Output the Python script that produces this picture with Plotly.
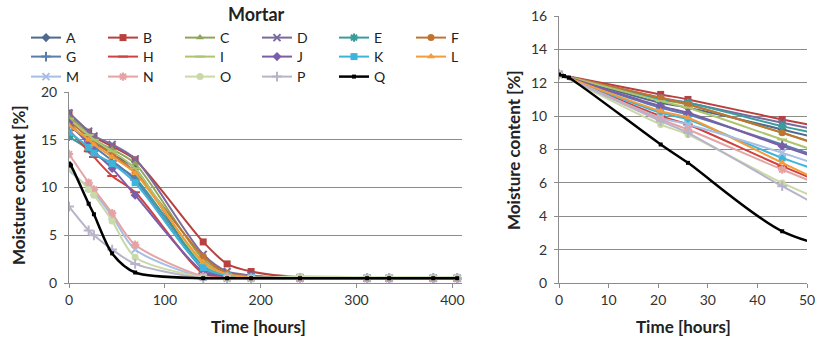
import plotly.graph_objects as go

# ---------------- data ----------------
names = ["A", "B", "C", "D", "E", "F", "G", "H", "I", "J", "K", "L", "M", "N", "O", "P", "Q"]

# Left panel (Mortar) – time in hours
time_left = [0, 20.5, 26, 45, 69, 140, 165, 190, 241, 311, 334, 380, 405]
left_vals = {
    "A": [17.5, 15.5, 15.0, 13.5, 12.0, 1.5, 0.8, 0.6, 0.5, 0.5, 0.5, 0.5, 0.5],
    "B": [17.8, 15.8, 15.3, 14.3, 12.9, 4.3, 2.0, 1.2, 0.6, 0.5, 0.5, 0.5, 0.5],
    "C": [17.5, 15.6, 15.0, 14.0, 12.5, 2.5, 1.0, 0.7, 0.5, 0.5, 0.5, 0.5, 0.5],
    "D": [17.8, 15.9, 15.4, 14.5, 13.0, 3.0, 1.2, 0.8, 0.5, 0.5, 0.5, 0.5, 0.5],
    "E": [15.3, 14.0, 13.5, 12.5, 11.0, 1.8, 0.8, 0.6, 0.5, 0.5, 0.5, 0.5, 0.5],
    "F": [17.0, 15.2, 14.7, 13.5, 11.6, 2.8, 1.0, 0.7, 0.5, 0.5, 0.5, 0.5, 0.5],
    "G": [16.5, 14.8, 14.3, 12.8, 10.8, 1.5, 0.7, 0.6, 0.5, 0.5, 0.5, 0.5, 0.5],
    "H": [16.0, 13.8, 13.2, 11.2, 9.5, 1.0, 0.6, 0.5, 0.5, 0.5, 0.5, 0.5, 0.5],
    "I": [17.2, 15.5, 15.0, 13.8, 12.0, 2.0, 0.9, 0.6, 0.5, 0.5, 0.5, 0.5, 0.5],
    "J": [16.8, 14.5, 13.8, 12.0, 9.2, 1.2, 0.7, 0.5, 0.5, 0.5, 0.5, 0.5, 0.5],
    "K": [15.8, 14.2, 13.6, 12.5, 10.5, 1.6, 0.8, 0.6, 0.5, 0.5, 0.5, 0.5, 0.5],
    "L": [16.5, 15.0, 14.5, 13.2, 11.5, 2.2, 0.9, 0.6, 0.5, 0.5, 0.5, 0.5, 0.5],
    "M": [11.8, 10.0, 9.5, 7.0, 3.5, 0.6, 0.5, 0.5, 0.5, 0.5, 0.5, 0.5, 0.5],
    "N": [13.5, 10.5, 9.8, 7.3, 4.0, 0.7, 0.5, 0.5, 0.5, 0.5, 0.5, 0.5, 0.5],
    "O": [12.0, 9.8, 9.2, 6.5, 2.7, 0.6, 0.5, 0.5, 0.7, 0.6, 0.6, 0.6, 0.6],
    "P": [8.0, 5.5, 5.0, 3.5, 2.0, 0.5, 0.5, 0.5, 0.5, 0.5, 0.5, 0.5, 0.5],
}
time_q_left = [0, 1, 2, 20.5, 26, 45, 69, 140, 165, 190, 241, 311, 334, 380, 405]
q_left = [12.5, 12.4, 12.3, 8.3, 7.2, 3.1, 1.1, 0.5, 0.5, 0.5, 0.5, 0.5, 0.5, 0.5, 0.5]

# Right panel – first 50 hours
time_right = [0, 20.5, 26, 45, 69]
right_vals = {
    "A": [12.5, 10.8, 10.5, 9.2, 7.4],
    "B": [12.5, 11.3, 11.0, 9.8, 8.4],
    "C": [12.5, 11.0, 10.7, 9.0, 6.7],
    "D": [12.5, 11.1, 10.8, 9.6, 8.2],
    "E": [12.5, 11.0, 10.8, 9.4, 7.9],
    "F": [12.5, 11.1, 10.7, 9.0, 6.6],
    "G": [12.5, 10.5, 10.1, 8.3, 5.9],
    "H": [12.5, 10.0, 9.5, 7.0, 4.1],
    "I": [12.5, 10.9, 10.5, 8.6, 6.2],
    "J": [12.5, 10.6, 10.2, 8.2, 5.8],
    "K": [12.5, 10.2, 9.8, 7.5, 5.1],
    "L": [12.5, 10.3, 9.9, 7.2, 3.8],
    "M": [12.5, 9.9, 9.5, 7.8, 5.4],
    "N": [12.5, 9.8, 9.2, 6.8, 3.9],
    "O": [12.5, 9.5, 8.9, 6.0, 3.0],
    "P": [12.5, 9.7, 9.0, 5.8, 2.0],
}
time_q_right = [0, 1, 2, 20.5, 26, 45, 69]
q_right = [12.5, 12.4, 12.3, 8.3, 7.2, 3.1, 1.1]

left_ticks = [0, 100, 200, 300, 400]
right_ticks = [0, 10, 20, 30, 40, 50]

# ---------------- styles ----------------
colors = {
    "A": "#4E6A8C", "B": "#B8403E", "C": "#8FA55A", "D": "#7A6A9E", "E": "#3A9C9B",
    "F": "#C07431", "G": "#5A7DB0", "H": "#D0413F", "I": "#AEC46E", "J": "#7A5EA8",
    "K": "#3FB4DA", "L": "#F49B3A", "M": "#A6BEE3", "N": "#E5A3A3", "O": "#C9D9A8",
    "P": "#B9B3C9", "Q": "#000000",
}
symbols = {
    "A": "diamond", "B": "square", "C": "triangle-up", "D": "x-thin-open", "E": "asterisk-open",
    "F": "circle", "G": "cross-thin-open", "H": "line-ew-open", "I": "line-ew-open",
    "J": "diamond", "K": "square", "L": "triangle-up", "M": "x-thin-open", "N": "asterisk-open",
    "O": "circle", "P": "cross-thin-open", "Q": "square",
}
legend_of = {}
for i, n in enumerate(names):
    legend_of[n] = "legend" if i < 6 else ("legend2" if i < 12 else "legend3")

FONT = "Lato, Open Sans, sans-serif"
fig = go.Figure()


def add(n, x, y, xa, ya, show):
    c = colors[n]
    sym = symbols[n]
    size = 4 if n == "Q" else 7
    fig.add_trace(go.Scatter(
        x=x, y=y, name=n, mode="lines+markers",
        line=dict(color=c, width=2.5 if n == "Q" else 2, shape="spline", smoothing=0.8),
        marker=dict(symbol=sym, size=size, color=c, line=dict(color=c, width=2 if "open" in sym else 0)),
        xaxis=xa, yaxis=ya, showlegend=show, legend=legend_of[n],
    ))


for n in names:
    if n == "Q":
        add(n, time_q_left, q_left, "x", "y", True)
    else:
        add(n, time_left, left_vals[n], "x", "y", True)
for n in names:
    if n == "Q":
        add(n, time_q_right, q_right, "x2", "y2", False)
    else:
        add(n, time_right, right_vals[n], "x2", "y2", False)

W, H = 816, 338
axis_common = dict(showline=True, linecolor="#8c8c8c", linewidth=1, ticks="outside",
                   tickcolor="#8c8c8c", ticklen=4, tickfont=dict(family=FONT, size=14, color="#333"),
                   zeroline=False, automargin=False)

fig.update_layout(
    width=W, height=H, margin=dict(l=0, r=0, t=0, b=0, autoexpand=False),
    paper_bgcolor="white", plot_bgcolor="white",
    font=dict(family=FONT, color="#222"),
    xaxis=dict(domain=[69 / W, 462 / W], range=[0, 410], tickvals=left_ticks, showgrid=False,
               anchor="y", **axis_common),
    yaxis=dict(domain=[1 - 283 / H, 1 - 92 / H], range=[0, 20], dtick=5, showgrid=True,
               gridcolor="#8c8c8c", gridwidth=1, anchor="x", ticklabelstandoff=4, **axis_common),
    xaxis2=dict(domain=[559 / W, 807 / W], range=[0, 50], tickvals=right_ticks, showgrid=False,
                anchor="y2", ticklabeloverflow="allow", **axis_common),
    yaxis2=dict(domain=[1 - 283 / H, 1 - 16 / H], range=[0, 16], dtick=2, showgrid=True,
                gridcolor="#8c8c8c", gridwidth=1, anchor="x2", ticklabelstandoff=4, **axis_common),
)

leg_common = dict(orientation="h", x=26 / W, xanchor="left", yanchor="middle",
                  entrywidth=32, entrywidthmode="pixels", itemwidth=30,
                  font=dict(family=FONT, size=14, color="#222"), bgcolor="rgba(0,0,0,0)",
                  tracegroupgap=0)
fig.update_layout(
    legend=dict(y=1 - 38 / H, **leg_common),
    legend2=dict(y=1 - 57 / H, **leg_common),
    legend3=dict(y=1 - 77 / H, **leg_common),
)

ann_common = dict(xref="paper", yref="paper", xanchor="center", yanchor="middle", showarrow=False)
annotations = [
    dict(text="<b>Mortar</b>", x=256 / W, y=1 - 14 / H,
         font=dict(family=FONT, size=18, color="#222"), **ann_common),
    dict(text="<b>Moisture content [%]</b>", x=18 / W, y=1 - 185 / H, textangle=-90,
         font=dict(family=FONT, size=17, color="#222"), **ann_common),
    dict(text="<b>Time [hours]</b>", x=258 / W, y=1 - 326 / H,
         font=dict(family=FONT, size=17, color="#222"), **ann_common),
    dict(text="<b>Moisture content [%]</b>", x=513 / W, y=1 - 150 / H, textangle=-90,
         font=dict(family=FONT, size=17, color="#222"), **ann_common),
    dict(text="<b>Time [hours]</b>", x=683 / W, y=1 - 326 / H,
         font=dict(family=FONT, size=17, color="#222"), **ann_common),
]
fig.update_layout(annotations=annotations)

fig.write_html("out.html", config={"displayModeBar": False},
               post_script="document.body.style.margin='0';document.body.style.padding='0';")
